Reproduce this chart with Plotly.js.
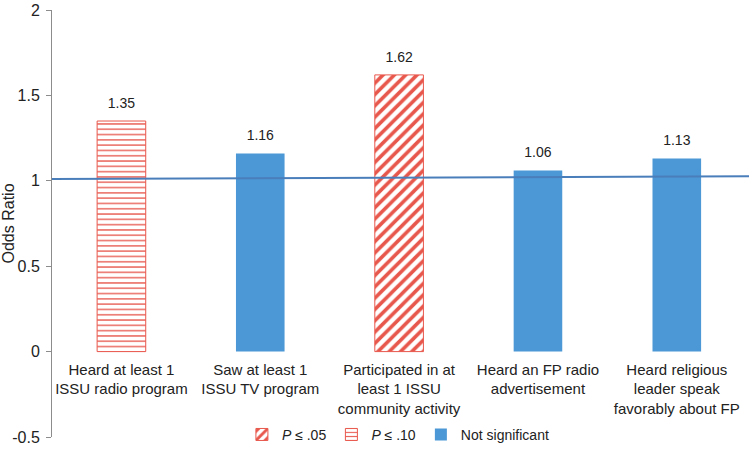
<!DOCTYPE html>
<html>
<head>
<meta charset="utf-8">
<script src="https://cdn.plot.ly/plotly-3.0.1.min.js"></script>
<style>
  body { margin: 0; background: #fff; }
  #chart { width: 752px; height: 455px; }
</style>
</head>
<body>
<div id="chart"></div>
<script>
// Odds ratios by exposure
const categories = [
    'Heard at least 1<br>ISSU radio program',
    'Saw at least 1<br>ISSU TV program',
    'Participated in at<br>least 1 ISSU<br>community activity',
    'Heard an FP radio<br>advertisement',
    'Heard religious<br>leader speak<br>favorably about FP'
];
const oddsRatios = [1.35, 1.16, 1.62, 1.06, 1.13];
const significance = ['p10', 'ns', 'p05', 'ns', 'ns'];

const groupNames = { p05: '<i>P</i> ≤ .05', p10: '<i>P</i> ≤ .10', ns: 'Not significant' };
const groupOrder = ['p05', 'p10', 'ns'];

// reference line at OR = 1 (drawn slightly tilted in the original)
const refX = [-0.5, 4.52];
const refY = [1.01, 1.027];

const yTicks = [-0.5, 0, 0.5, 1, 1.5, 2];
const yTickText = ['-0.5', '0', '0.5', '1', '1.5', '2'];

const red = '#e8574c';
const blue = '#4c97d6';

function groupStyle(g) {
    if (g === 'p05') {
        return { color: '#ffffff', line: { color: red, width: 1 },
                 pattern: { shape: '/', fgcolor: red, bgcolor: '#ffffff', size: 8, solidity: 0.45 } };
    }
    if (g === 'p10') {
        return { color: '#ffffff', line: { color: red, width: 1 },
                 pattern: { shape: '-', fgcolor: red, bgcolor: '#ffffff', size: 5.3, solidity: 0.25 } };
    }
    return { color: blue, line: { width: 0 } };
}

const traces = groupOrder.map(g => {
    const idx = significance.map((s, i) => s === g ? i : -1).filter(i => i >= 0);
    return {
        type: 'bar',
        name: groupNames[g],
        x: idx,
        y: idx.map(i => oddsRatios[i]),
        width: 0.35,
        marker: groupStyle(g),
        hoverinfo: 'y'
    };
});

traces.push({
    type: 'scatter',
    mode: 'lines',
    x: refX,
    y: refY,
    line: { color: '#4a7ebb', width: 2 },
    showlegend: false,
    hoverinfo: 'skip',
    cliponaxis: false
});

// value labels above the bars
traces.push({
    type: 'scatter',
    mode: 'markers+text',
    x: oddsRatios.map((v, i) => i),
    y: oddsRatios,
    text: oddsRatios.map(v => v.toFixed(2)),
    textposition: 'top center',
    textfont: { size: 14, color: '#222' },
    marker: { size: 14, opacity: 0 },
    showlegend: false,
    hoverinfo: 'skip',
    cliponaxis: false
});

Plotly.newPlot('chart', traces, {
    width: 752,
    height: 455,
    margin: { t: 10, b: 18, l: 52, r: 3 },
    barmode: 'overlay',
    paper_bgcolor: '#ffffff',
    plot_bgcolor: '#ffffff',
    font: { family: 'Liberation Sans, Arial, sans-serif', size: 16, color: '#222' },
    showlegend: true,
    legend: {
        orientation: 'h',
        x: 0.497, xanchor: 'center',
        y: 0.005, yanchor: 'middle',
        font: { size: 14, color: '#222' },
        bgcolor: 'rgba(255,255,255,0)',
        traceorder: 'normal'
    },
    xaxis: {
        range: [refX[0], refX[1]],
        tickvals: [0, 1, 2, 3, 4],
        ticktext: categories,
        tickangle: 0,
        anchor: 'free',
        position: 0.2,
        showline: false,
        showgrid: false,
        zeroline: false,
        ticks: '',
        ticklabelstandoff: 7,
        tickfont: { size: 15, color: '#222' },
        automargin: false
    },
    yaxis: {
        range: [-0.5, 2],
        tickvals: yTicks,
        ticktext: yTickText,
        showline: true,
        linecolor: '#8c8c8c',
        linewidth: 1,
        ticks: 'outside',
        ticklen: 5,
        tickcolor: '#8c8c8c',
        ticklabelstandoff: 3,
        showgrid: false,
        zeroline: false,
        tickfont: { size: 16, color: '#222' },
        title: { text: 'Odds Ratio', font: { size: 16, color: '#222' }, standoff: 0 },
        automargin: false
    }
}, { displayModeBar: false });
</script>
</body>
</html>
